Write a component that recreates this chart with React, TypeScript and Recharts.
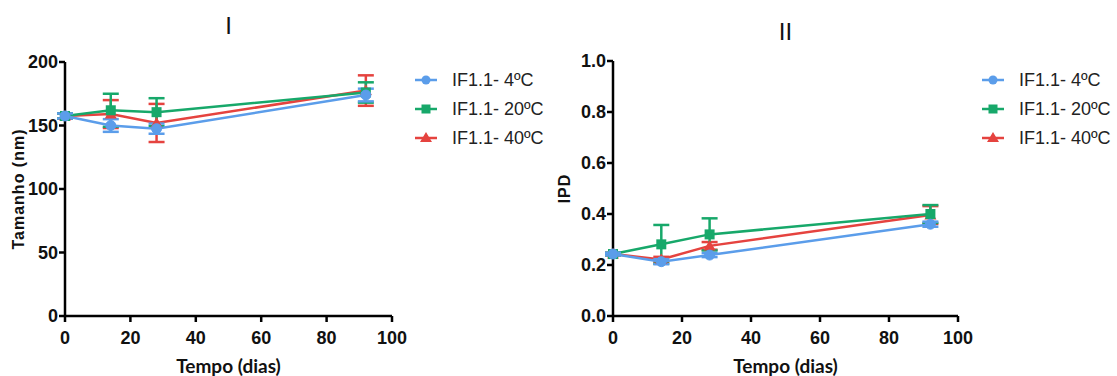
import React from "react";
import {
  LineChart, Line, XAxis, YAxis, ErrorBar, Legend,
} from "recharts";

const DAYS = [0, 14, 28, 92];
const X_TICKS = [0, 20, 40, 60, 80, 100];
const SERIES_NAMES = ["IF1.1- 4ºC", "IF1.1- 20ºC", "IF1.1- 40ºC"];

// painel I - tamanho (nm)
const SIZE_4 = [157.5, 150, 147.5, 174];
const SIZE_20 = [157.5, 162, 160.5, 176];
const SIZE_40 = [157.5, 159, 152, 177.5];
const SIZE_ERR_4 = [2, 5, 4, 5];
const SIZE_ERR_20 = [2, 13, 11, 8];
const SIZE_ERR_40 = [2, 11, 15, 12];
const SIZE_TICKS = [0, 50, 100, 150, 200];

// painel II - IPD
const IPD_4 = [0.243, 0.213, 0.239, 0.36];
const IPD_20 = [0.243, 0.281, 0.32, 0.4];
const IPD_40 = [0.243, 0.222, 0.275, 0.396];
const IPD_ERR_4 = [0.005, 0.01, 0.008, 0.01];
const IPD_ERR_20 = [0.005, 0.076, 0.063, 0.035];
const IPD_ERR_40 = [0.005, 0.01, 0.015, 0.035];
const IPD_TICKS = [0, 0.2, 0.4, 0.6, 0.8, 1.0];

const BLUE = "#5b9dea";
const GREEN = "#17a86a";
const RED = "#e5433f";

const TICK_FONT = "'Liberation Sans', Arial, sans-serif";

const sizeRows = DAYS.map((d, i) => ({
  day: d,
  v4: SIZE_4[i], e4: SIZE_ERR_4[i],
  v20: SIZE_20[i], e20: SIZE_ERR_20[i],
  v40: SIZE_40[i], e40: SIZE_ERR_40[i],
}));

const ipdRows = DAYS.map((d, i) => ({
  day: d,
  v4: IPD_4[i], e4: IPD_ERR_4[i],
  v20: IPD_20[i], e20: IPD_ERR_20[i],
  v40: IPD_40[i], e40: IPD_ERR_40[i],
}));

function SquareDot(props: any) {
  const { cx, cy, index } = props;
  if (cx == null || cy == null) return null;
  return <rect key={`sq-${index}`} x={cx - 5} y={cy - 5} width={10} height={10} fill={GREEN} />;
}

function TriangleDot(props: any) {
  const { cx, cy, index } = props;
  if (cx == null || cy == null) return null;
  return (
    <polygon
      key={`tr-${index}`}
      points={`${cx},${cy - 6} ${cx + 6},${cy + 4.5} ${cx - 6},${cy + 4.5}`}
      fill={RED}
    />
  );
}

function LegendBox() {
  const rows = [
    { name: SERIES_NAMES[0], color: BLUE, shape: "circle" },
    { name: SERIES_NAMES[1], color: GREEN, shape: "square" },
    { name: SERIES_NAMES[2], color: RED, shape: "triangle" },
  ];
  return (
    <svg width={150} height={90}>
      {rows.map((r, i) => {
        const y = 14 + i * 29;
        return (
          <g key={r.name}>
            <line x1={10} x2={32} y1={y} y2={y} stroke={r.color} strokeWidth={2.5} />
            {r.shape === "circle" && <circle cx={21} cy={y} r={4.5} fill={r.color} />}
            {r.shape === "square" && <rect x={16.5} y={y - 4.5} width={9} height={9} fill={r.color} />}
            {r.shape === "triangle" && (
              <polygon points={`21,${y - 6} 27,${y + 4} 15,${y + 4}`} fill={r.color} />
            )}
            <text
              x={47}
              y={y}
              dy="0.36em"
              fontFamily={TICK_FONT}
              fontSize={18}
              fill="#222"
            >
              {r.name}
            </text>
          </g>
        );
      })}
    </svg>
  );
}

interface PanelProps {
  left: number;
  width: number;
  plotLeft: number;
  plotRight: number;
  plotTop: number;
  rows: any[];
  yDomain: [number, number];
  yTicks: number[];
  yFmt: (v: number) => string;
  yLabel: string;
  yLabelX: number;
  title: string;
  titleBaseline: number;
  legendLeft: number;
}

function Panel(p: PanelProps) {
  const axisStyle = { stroke: "#000", strokeWidth: 2.5 };
  const tickStyle = { fontFamily: TICK_FONT, fontSize: 18, fontWeight: 700, fill: "#111" };
  const titleCenter = (p.plotLeft + p.plotRight) / 2;
  return (
    <div style={{ position: "absolute", left: p.left, top: 0, width: p.width, height: 376 }}>
      <div
        style={{
          position: "absolute",
          left: titleCenter - 50,
          width: 100,
          top: p.titleBaseline - 20.3,
          textAlign: "center",
          fontFamily: TICK_FONT,
          fontSize: 24,
          lineHeight: "24px",
          color: "#111",
        }}
      >
        {p.title}
      </div>
      <LineChart
        width={p.width}
        height={376}
        data={p.rows}
        margin={{ top: p.plotTop, right: p.width - p.plotRight, bottom: 25, left: 0 }}
      >
        <XAxis
          dataKey="day"
          type="number"
          domain={[0, 100]}
          ticks={X_TICKS}
          height={35}
          axisLine={axisStyle}
          tickLine={axisStyle}
          tickSize={6}
          tickMargin={9}
          tick={tickStyle}
          label={{
            content: (props: any) => {
              const vb = props.viewBox || {};
              return (
                <text
                  x={vb.x + vb.width / 2}
                  y={vb.y + 57}
                  textAnchor="middle"
                  fontFamily="Lato, 'Open Sans', sans-serif"
                  fontWeight={700}
                  fontSize={19}
                  fill="#111"
                >
                  Tempo (dias)
                </text>
              );
            },
          }}
        />
        <YAxis
          type="number"
          domain={p.yDomain}
          ticks={p.yTicks}
          width={p.plotLeft}
          axisLine={axisStyle}
          tickLine={axisStyle}
          tickSize={6}
          tickMargin={1}
          tick={tickStyle}
          tickFormatter={p.yFmt}
          label={{
            content: (props: any) => {
              const vb = props.viewBox || {};
              const cy = vb.y + vb.height / 2;
              return (
                <text
                  x={p.yLabelX}
                  y={cy}
                  transform={`rotate(-90 ${p.yLabelX} ${cy})`}
                  textAnchor="middle"
                  dy="0.36em"
                  fontFamily={TICK_FONT}
                  fontWeight={700}
                  fontSize={16}
                  letterSpacing={1}
                  fill="#111"
                >
                  {p.yLabel}
                </text>
              );
            },
          }}
        />
        <Legend
          layout="vertical"
          align="center"
          verticalAlign="middle"
          wrapperStyle={{ left: p.legendLeft, top: 66, width: 150, height: 90 }}
          content={() => <LegendBox />}
        />
        <Line
          dataKey="v40"
          name={SERIES_NAMES[2]}
          stroke={RED}
          strokeWidth={2.5}
          dot={TriangleDot}
          isAnimationActive={false}
        >
          <ErrorBar dataKey="e40" width={8} strokeWidth={2.5} stroke={RED} direction="y" />
        </Line>
        <Line
          dataKey="v20"
          name={SERIES_NAMES[1]}
          stroke={GREEN}
          strokeWidth={2.5}
          dot={SquareDot}
          isAnimationActive={false}
        >
          <ErrorBar dataKey="e20" width={8} strokeWidth={2.5} stroke={GREEN} direction="y" />
        </Line>
        <Line
          dataKey="v4"
          name={SERIES_NAMES[0]}
          stroke={BLUE}
          strokeWidth={2.5}
          dot={{ r: 5, fill: BLUE, stroke: BLUE, strokeWidth: 1 }}
          isAnimationActive={false}
        >
          <ErrorBar dataKey="e4" width={8} strokeWidth={2.5} stroke={BLUE} direction="y" />
        </Line>
      </LineChart>
    </div>
  );
}

export default function App() {
  return (
    <div style={{ position: "absolute", left: 0, top: 0, width: 1117, height: 376, background: "#fff" }}>
      <Panel
        left={0}
        width={545}
        plotLeft={65}
        plotRight={392}
        plotTop={62}
        rows={sizeRows}
        yDomain={[0, 200]}
        yTicks={SIZE_TICKS}
        yFmt={(v) => String(v)}
        yLabel="Tamanho (nm)"
        yLabelX={18}
        title="I"
        titleBaseline={34}
        legendLeft={405}
      />
      <Panel
        left={545}
        width={572}
        plotLeft={68}
        plotRight={413}
        plotTop={61}
        rows={ipdRows}
        yDomain={[0, 1]}
        yTicks={IPD_TICKS}
        yFmt={(v) => v.toFixed(1)}
        yLabel="IPD"
        yLabelX={19}
        title="II"
        titleBaseline={40}
        legendLeft={427}
      />
    </div>
  );
}
